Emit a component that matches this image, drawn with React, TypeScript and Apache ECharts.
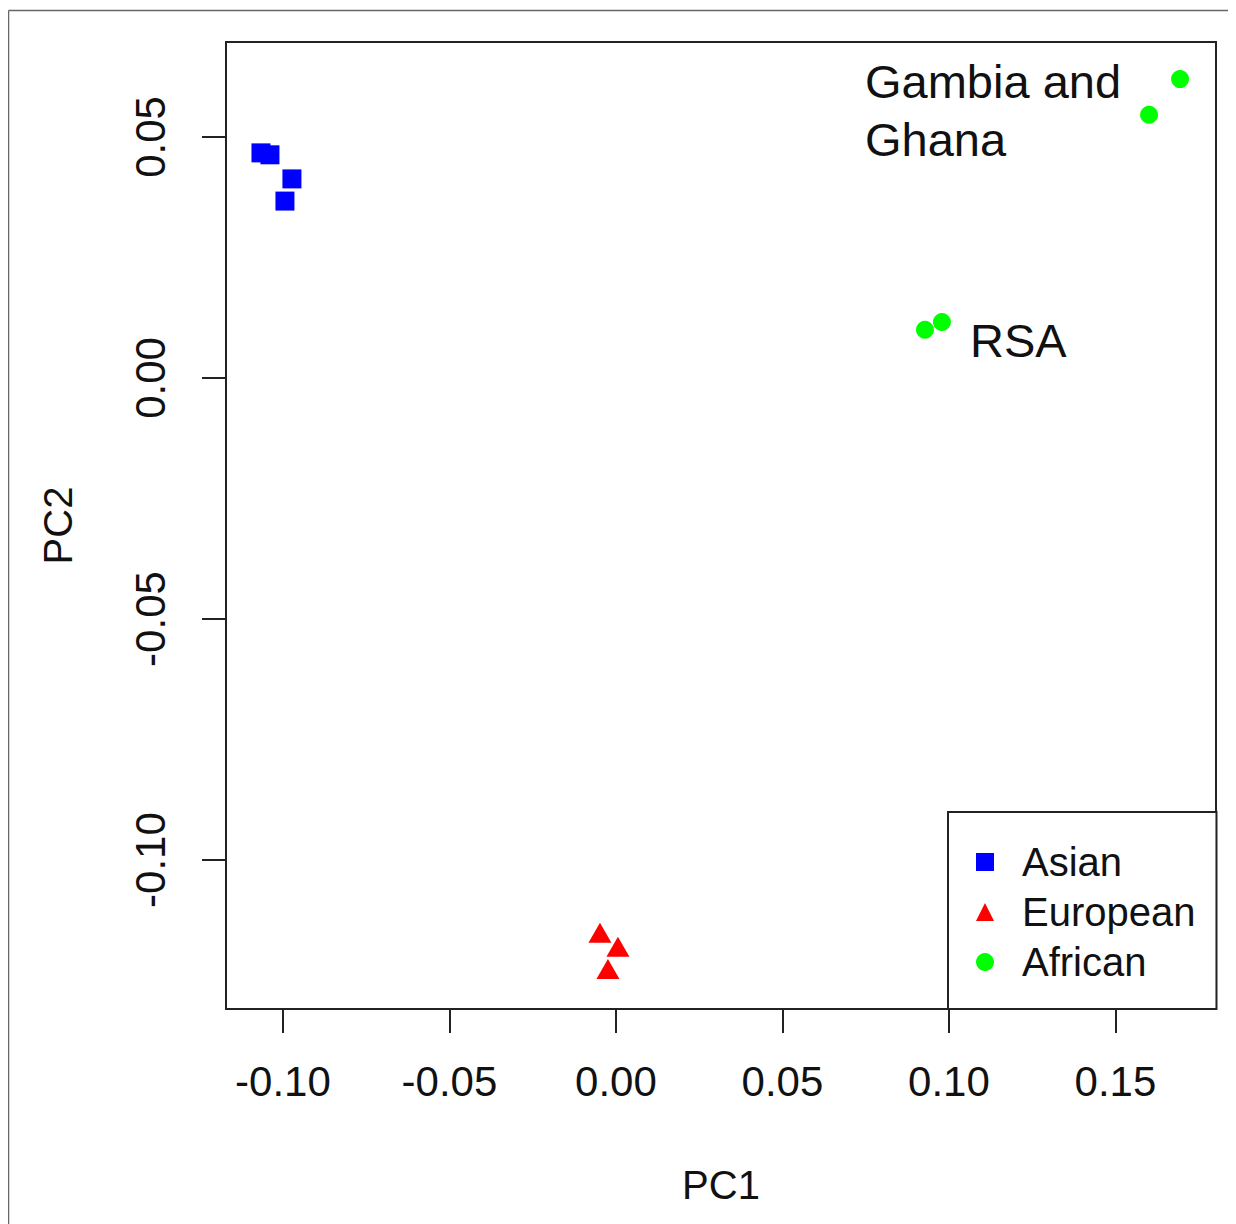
import React, { useEffect, useRef } from "react";
import * as echarts from "echarts";

const asianPC1 = [-0.1066, -0.1039, -0.0973, -0.0994];
const asianPC2 = [0.0467, 0.0463, 0.0413, 0.0367];
const europeanPC1 = [-0.0048, 0.0006, -0.0024];
const europeanPC2 = [-0.1151, -0.118, -0.1226];
const africanPC1 = [0.1694, 0.1601, 0.0928, 0.0979];
const africanPC2 = [0.062, 0.0546, 0.01, 0.0116];

const xTicks = [-0.1, -0.05, 0, 0.05, 0.1, 0.15];
const yTicks = [-0.1, -0.05, 0, 0.05];
const groupNames = ["Asian", "European", "African"];

const FONT = '"Liberation Sans", Arial, sans-serif';
const INK = "#111";

function pts(xs: number[], ys: number[]) {
  return xs.map((x, i) => [x, ys[i]]);
}

export default function App() {
  const ref = useRef<HTMLDivElement>(null);
  useEffect(() => {
    if (!ref.current) return;
    const chart = echarts.init(ref.current, undefined, { renderer: "svg" });
    const fmt = (v: number) => v.toFixed(2);
    chart.setOption({
      animation: false,
      backgroundColor: "#fff",
      grid: {
        show: true,
        left: 218,
        top: 34,
        width: 990,
        height: 967,
        containLabel: false,
        outerBoundsMode: "none",
        borderColor: "#222",
        borderWidth: 2,
        backgroundColor: "transparent",
      },
      xAxis: {
        type: "value",
        min: -0.1171,
        max: 0.1802,
        name: "PC1",
        nameLocation: "middle",
        nameGap: 156,
        nameTextStyle: { fontFamily: FONT, fontSize: 40, color: INK },
        axisLine: { show: false, onZero: false },
        splitLine: { show: false },
        axisTick: {
          show: true,
          length: 24,
          customValues: xTicks,
          lineStyle: { color: "#222", width: 2 },
        },
        axisLabel: {
          customValues: xTicks,
          formatter: fmt,
          margin: 51,
          fontFamily: FONT,
          fontSize: 42,
          color: INK,
          verticalAlign: "top",
        },
      },
      yAxis: {
        type: "value",
        min: -0.1309,
        max: 0.0697,
        name: "PC2",
        nameLocation: "middle",
        nameGap: 148,
        nameTextStyle: { fontFamily: FONT, fontSize: 40, color: INK },
        axisLine: { show: false, onZero: false },
        splitLine: { show: false },
        axisTick: {
          show: true,
          length: 24,
          customValues: yTicks,
          lineStyle: { color: "#222", width: 2 },
        },
        axisLabel: {
          customValues: yTicks,
          formatter: fmt,
          rotate: 90,
          margin: 55,
          fontFamily: FONT,
          fontSize: 42,
          color: INK,
          align: "center",
          verticalAlign: "bottom",
        },
      },
      legend: {
        orient: "vertical",
        left: 940,
        top: 804,
        data: groupNames,
        backgroundColor: "#fff",
        borderColor: "#222",
        borderWidth: 2,
        borderRadius: 0,
        padding: [30, 21, 27, 28],
        itemWidth: 18,
        itemHeight: 18,
        itemGap: 10,
        textStyle: {
          fontFamily: FONT,
          fontSize: 40,
          color: INK,
          lineHeight: 40,
          padding: [0, 0, 0, 23],
        },
      },
      graphic: [
        {
          type: "line",
          shape: { x1: 0.5, y1: 2.5, x2: 1228, y2: 2.5 },
          style: { stroke: "#666", lineWidth: 1.5 },
          silent: true,
        },
        {
          type: "line",
          shape: { x1: 0.5, y1: 2.5, x2: 0.5, y2: 1216 },
          style: { stroke: "#666", lineWidth: 1.5 },
          silent: true,
        },
        {
          type: "text",
          x: 857,
          y: 73,
          style: { text: "Gambia and", font: `47px ${FONT}`, fill: INK, textVerticalAlign: "middle" },
        },
        {
          type: "text",
          x: 857,
          y: 131,
          style: { text: "Ghana", font: `47px ${FONT}`, fill: INK, textVerticalAlign: "middle" },
        },
        {
          type: "text",
          x: 962,
          y: 332,
          style: { text: "RSA", font: `47px ${FONT}`, fill: INK, textVerticalAlign: "middle" },
        },
      ],
      series: [
        {
          name: "Asian",
          type: "scatter",
          symbol: "rect",
          symbolSize: 19,
          itemStyle: { color: "#0000FF", opacity: 1 },
          data: pts(asianPC1, asianPC2),
        },
        {
          name: "European",
          type: "scatter",
          symbol: "triangle",
          symbolSize: [23, 20],
          itemStyle: { color: "#FF0000", opacity: 1 },
          data: pts(europeanPC1, europeanPC2),
        },
        {
          name: "African",
          type: "scatter",
          symbol: "circle",
          symbolSize: 18,
          itemStyle: { color: "#00FF00", opacity: 1 },
          data: pts(africanPC1, africanPC2),
        },
      ],
    });
    return () => chart.dispose();
  }, []);
  return <div ref={ref} style={{ width: 1228, height: 1216 }} />;
}
